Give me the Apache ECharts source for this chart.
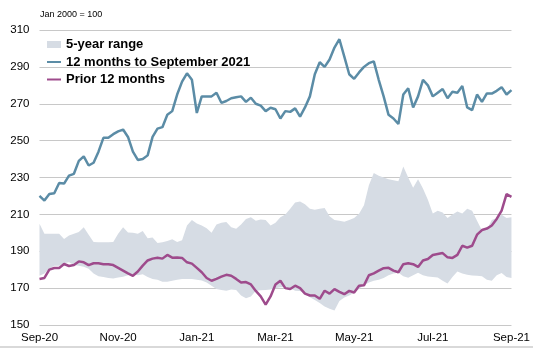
<!DOCTYPE html>
<html>
<head>
<meta charset="utf-8">
<script src="https://cdn.jsdelivr.net/npm/echarts@6/dist/echarts.min.js"></script>
<style>
html,body{margin:0;padding:0;background:#fff;}
#chart{width:533px;height:348px;}
</style>
</head>
<body>
<div id="chart"></div>
<script>
// Tick labels along the x axis (every two months, 8 samples per month)
var tickLabels = ['Sep-20','Nov-20','Jan-21','Mar-21','May-21','Jul-21','Sep-21'];

// 12 months to September 2021
var current = [
220,217.5,221,221.5,227,226.7,231,232,239,241.5,
236.5,238,244,251.5,251.5,253.5,255,256,252,244,
239.5,240,242,252,256.5,257.3,264,266,275,282,
286.5,283,265,274,274,274,276,270.5,271.5,273,
273.5,274,271,273.3,270,269,266,267.8,267,262,
266,265.6,267.5,263,268,274,286,292.5,290,294,
300.5,305,295.6,286,283.5,287,290,292,293,283,
274,264,262,259,275,278.4,268,274,283,280,
274,276,278,273,276.5,276,279.6,268,266.5,275,
271,275.6,275.5,277,279,275,277.4
];

// Prior 12 months
var prior = [
174.9,175.5,180,180.9,180.9,183.1,182,182.5,184.5,184,
182.5,183.5,183.5,183,183,182.5,181,179.5,178,176.7,
179,182.2,185,186,186.5,186,188,186.5,186.6,186.4,
184,183.3,181,178.6,175.5,174,175,176.2,177.2,176.7,
175,173.1,173.3,172,168.5,165.5,161,165.5,172,174,
170,169.5,171.3,170,167,166,166,164.2,168.6,167,
169.5,168,166.7,168.5,167.6,171.3,171.5,177,178,179.5,
180.8,181,179.5,178.6,183,183.5,183,181.5,185,185.8,
188,188.5,189,186.7,186.4,188,193,192,193,199,
201.5,202.3,204,207.5,212,221,219.5
];

// 5-year range: upper bound
var rangeHigh = [
204.9,199.5,199.5,199.5,199.5,196.7,198.5,199.5,200.4,203,
199,195,194.9,194.9,194.9,195,199.5,203,200.2,200,
199.5,201,197,197.5,194.5,194.9,195.5,196.5,195,196,
204,207,205,204,202.5,200,204.5,205.5,205.8,203,
202.2,204.5,207.5,208.5,206.5,207.2,207,204,205.5,208.5,
210,213,216.5,217,215.5,213,212.5,213,213.5,209,
207,206.5,206,207,208,210.4,215,225.8,232.5,231,
230,229,228.5,228,236,230,224.5,229,224,218,
210.5,212,211,208,210,211.5,210.5,213,212,206.5,
201.3,202,207,208,209.8,208,208.5
];

// 5-year range: lower bound
var rangeLow = [
176.7,178,180.5,182.2,182.2,183.5,184,182.5,182.2,181.6,
180.5,178,176.5,176,175.5,175.2,175.7,176.2,177,177.5,
177,177.5,176,175,174.5,173.5,173.4,174,174.5,174.9,
174.9,174.9,174.6,174.2,173,171.3,169.5,169,168.6,169.3,
169,166,164.5,165.5,168.6,168.8,169,169.2,170,170.5,
170.6,170,168.6,168.5,167,165,163.5,162,160,158.8,
157.8,163,164.9,166,167.5,169.5,171.5,173,174,174.6,
175.5,177,178,178.4,176.5,175.6,177,178.4,177,176.3,
176,175.7,174,172.5,176,179,178,177.2,176.8,176.7,
176.5,174.5,174,177,178.2,176,175.5
];

var categories = current.map(function(_, i){ return 'd' + i; });
var rangeSpan = rangeHigh.map(function(h, i){ return +(h - rangeLow[i]).toFixed(2); });

var colBand = '#D6DCE4';
var colBlue = '#5B8CA6';
var colPurple = '#9E4B8C';

var chart = echarts.init(document.getElementById('chart'), null, {renderer:'canvas'});
chart.setOption({
  animation: false,
  backgroundColor: '#ffffff',
  textStyle: {fontFamily: 'Liberation Sans, Arial, sans-serif'},
  grid: {left: 39.5, right: 17.3, top: 30, bottom: 23, containLabel: false},
  graphic: [
    {type:'text', left: 40, top: 10, style:{text:'Jan 2000 = 100', fontSize: 9, fill:'#000', fontFamily:'Liberation Sans, Arial, sans-serif'}},
    {type:'rect', left: 0, top: 346, shape:{width:533, height:2}, style:{fill:'#D9D9D9'}}
  ],
  legend: {
    orient: 'vertical',
    left: 42, top: 32,
    itemWidth: 14, itemHeight: 7,
    itemGap: 2.5,
    textStyle: {fontSize: 13, fontWeight: 'bold', color: '#000', lineHeight: 15, fontFamily: 'Liberation Sans, Arial, sans-serif'},
    data: [
      {name: '5-year range', icon: 'rect', itemStyle: {color: colBand}},
      {name: '12 months to September 2021', icon: 'path://M0,0L14,0L14,2L0,2Z', itemStyle: {color: colBlue}},
      {name: 'Prior 12 months', icon: 'path://M0,0L14,0L14,2L0,2Z', itemStyle: {color: colPurple}}
    ]
  },
  xAxis: {
    type: 'category',
    data: categories,
    boundaryGap: false,
    axisLine: {show: false},
    axisTick: {show: false},
    axisLabel: {
      interval: 15,
      margin: 7,
      fontSize: 11.5,
      color: '#000',
      formatter: function(v, i){ return tickLabels[Math.round(i / 16)] || ''; }
    },
    splitLine: {show: false}
  },
  yAxis: {
    type: 'value',
    min: 150, max: 310, interval: 20,
    axisLine: {show: false},
    axisTick: {show: false},
    axisLabel: {fontSize: 11.5, color: '#000', margin: 10},
    splitLine: {lineStyle: {color: '#C8C8C8', width: 1}}
  },
  series: [
    {
      name: 'rangeBase', type: 'line', data: rangeLow, stack: 'band',
      symbol: 'none', lineStyle: {opacity: 0}, silent: true, z: 1
    },
    {
      name: '5-year range', type: 'line', data: rangeSpan, stack: 'band',
      symbol: 'none', lineStyle: {opacity: 0}, itemStyle: {color: colBand},
      areaStyle: {color: colBand, opacity: 1}, z: 1
    },
    {
      name: 'Prior 12 months', type: 'line', data: prior,
      symbol: 'none', itemStyle: {color: colPurple},
      lineStyle: {color: colPurple, width: 2.5}, z: 3
    },
    {
      name: '12 months to September 2021', type: 'line', data: current,
      symbol: 'none', itemStyle: {color: colBlue},
      lineStyle: {color: colBlue, width: 2.5}, z: 4
    }
  ]
});
</script>
</body>
</html>
